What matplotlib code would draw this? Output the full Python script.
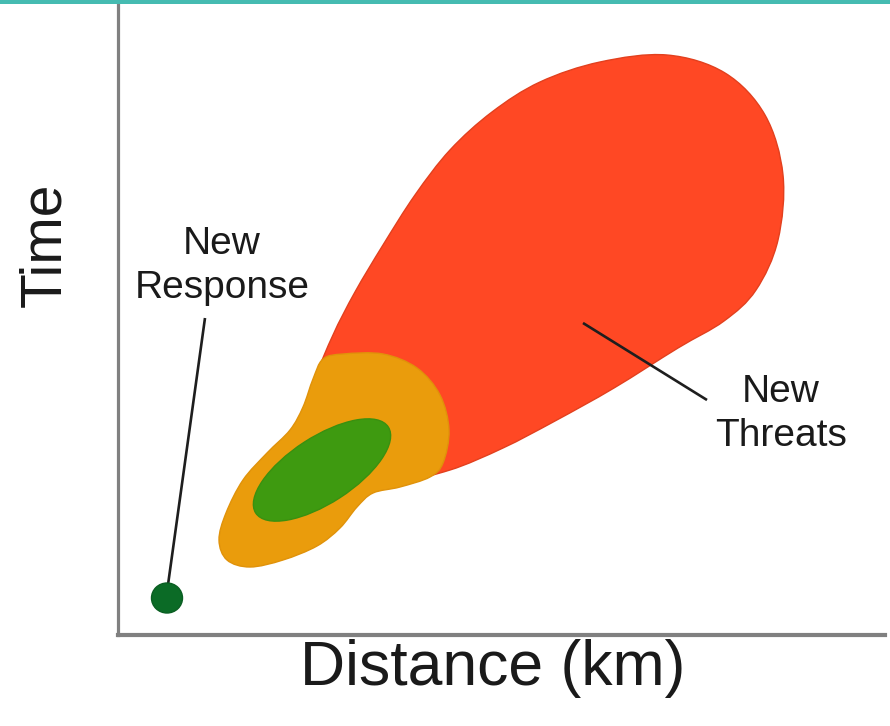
import numpy as np
import matplotlib
matplotlib.use("Agg")
import matplotlib.pyplot as plt
from matplotlib.path import Path
from matplotlib.patches import PathPatch, Ellipse, Rectangle

plt.rcParams['font.family'] = ['Liberation Sans', 'DejaVu Sans']

# outlines of the regions, in distance / time units
threat_x = [549, 607, 647, 665, 660, 638, 606, 560, 496, 437, 385, 332,
            287, 232, 200, 200, 215, 237, 265, 297, 332, 374, 422, 482]
threat_y = [580, 562, 520, 460, 395, 345, 314, 287, 247, 214, 187, 165,
            157, 170, 215, 260, 300, 343, 390, 440, 485, 523, 553, 573]

zone_x = [205, 225, 265, 299, 322, 331, 325, 312, 282, 255, 239, 222, 199,
          165, 132, 109, 101, 108, 125, 149, 172, 185, 195]
zone_y = [276, 281, 281, 267, 240, 205, 172, 158, 148, 142, 128, 107, 89,
          75, 68, 75, 95, 122, 155, 182, 205, 228, 256]

# green core ellipse: centre, width, height, tilt
core_center = (204, 165)
core_w, core_h, core_angle = 158, 66, 33

# new response point
response_pt = (49, 37)

# leader lines (start -> end)
response_line = ([87, 49], [317, 43])
threat_line = ([465, 589], [312, 235])


def smooth_closed(xs, ys):
    p = np.column_stack([xs, ys]).astype(float)
    n = len(p)
    verts = [p[0]]
    codes = [Path.MOVETO]
    for i in range(n):
        p0, p1, p2, p3 = p[i - 1], p[i], p[(i + 1) % n], p[(i + 2) % n]
        verts += [p1 + (p2 - p0) / 6, p2 - (p3 - p1) / 6, p2]
        codes += [Path.CURVE4] * 3
    verts.append(p[0])
    codes.append(Path.CLOSEPOLY)
    return Path(verts, codes)


fig = plt.figure(figsize=(8.9, 7.26), dpi=100)
fig.patch.set_facecolor('white')
ax = fig.add_axes([118 / 890, 91 / 726, 767 / 890, 631 / 726])
ax.set_xlim(0, 767)
ax.set_ylim(0, 631)
ax.set_facecolor('none')
for s in ['top', 'right']:
    ax.spines[s].set_visible(False)
ax.spines['left'].set_color('#808080')
ax.spines['left'].set_linewidth(2.3)
ax.spines['bottom'].set_color('#808080')
ax.spines['bottom'].set_linewidth(3)
ax.set_xticks([])
ax.set_yticks([])

ax.add_patch(PathPatch(smooth_closed(threat_x, threat_y), facecolor='#FF4824',
                       edgecolor='#E2401E', lw=1, zorder=2))
ax.add_patch(PathPatch(smooth_closed(zone_x, zone_y), facecolor='#EA9C0C',
                       edgecolor='#E0920A', lw=1, zorder=3))
ax.add_patch(Ellipse(core_center, core_w, core_h, angle=core_angle,
                     facecolor='#3E9A10', edgecolor='#3A9010', lw=1, zorder=4))

ax.plot(*response_line, color='#1e1e1e', lw=1.9, zorder=5, solid_capstyle='butt')
ax.plot(*threat_line, color='#1e1e1e', lw=1.9, zorder=5, solid_capstyle='butt')
ax.add_patch(Ellipse(response_pt, 31, 30, facecolor='#0B6B26',
                     edgecolor='#0A5E22', lw=1, zorder=6))

ax.text(104, 369, "New\nResponse", ha='center', va='center', fontsize=28,
        color='#1a1a1a', linespacing=1.28, zorder=7)
ax.text(663, 221, "New\nThreats", ha='center', va='center', fontsize=28,
        color='#1a1a1a', linespacing=1.28, zorder=7)

fig.text(45 / 890, 1 - 245 / 726, "Time", rotation=90, ha='center',
         va='center', fontsize=41, color='#1a1a1a')
fig.text(493 / 890, 1 - 668 / 726, "Distance (km)", ha='center',
         va='center', fontsize=45, color='#1a1a1a')

fig.add_artist(Rectangle((0, 1 - 4 / 726), 1, 4 / 726, transform=fig.transFigure,
                         facecolor='#45BBB1', edgecolor='none'))

fig.savefig("out.png", dpi=100)
